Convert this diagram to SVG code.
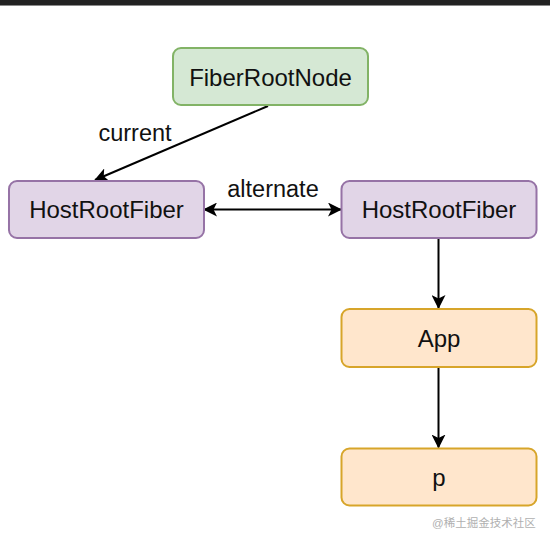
<svg xmlns="http://www.w3.org/2000/svg" width="550" height="544" viewBox="0 0 550 544">
  <style>
    text { font-family: "Liberation Sans", Arial, Helvetica, sans-serif; fill: #111; }
    .lbl { font-size: 24px; text-anchor: middle; }
    .elbl { font-size: 23.5px; text-anchor: middle; }
    .green { fill: #d5e8d4; stroke: #82b366; stroke-width: 2; }
    .purple { fill: #e1d5e7; stroke: #9673a6; stroke-width: 2; }
    .orange { fill: #ffe6cc; stroke: #d7a52a; stroke-width: 2; }
    .edge { fill: none; stroke: #000; stroke-width: 2; }
    .wm { font-family: "Liberation Sans", "Noto Sans CJK SC", sans-serif; font-size: 11.5px; fill: #b0b0b0; }
  </style>
  <defs>
    <marker id="arrow" viewBox="0 0 14 14" refX="13" refY="7" markerWidth="14" markerHeight="14" markerUnits="userSpaceOnUse" orient="auto-start-reverse">
      <path d="M0,0 L14,7 L0,14 L3.5,7 z" fill="#000"/>
    </marker>
  </defs>
  <rect x="0" y="0" width="550" height="544" fill="#ffffff"/>
  <rect x="0" y="0" width="550" height="5" fill="#222222"/>
  <rect x="0" y="5" width="550" height="1" fill="#8a8a8a"/>

  <g id="connectors">
    <line class="edge" x1="268" y1="106" x2="95" y2="180" marker-end="url(#arrow)"/>
    <line class="edge" x1="204" y1="209.5" x2="341" y2="209.5" marker-start="url(#arrow)" marker-end="url(#arrow)"/>
    <line class="edge" x1="438.5" y1="238" x2="438.5" y2="308" marker-end="url(#arrow)"/>
    <line class="edge" x1="438.5" y1="367" x2="438.5" y2="447.5" marker-end="url(#arrow)"/>
    <text class="elbl" x="135" y="140.5">current</text>
    <text class="elbl" x="273" y="196.5">alternate</text>
  </g>

  <g id="fiberRootNode">
    <rect class="green" x="173" y="48" width="195" height="57" rx="8"/>
    <text class="lbl" x="270.5" y="86">FiberRootNode</text>
  </g>
  <g id="hostRootFiberLeft">
    <rect class="purple" x="9" y="181" width="195" height="57" rx="8"/>
    <text class="lbl" x="106.5" y="218">HostRootFiber</text>
  </g>
  <g id="hostRootFiberRight">
    <rect class="purple" x="341.5" y="181" width="195" height="57" rx="8"/>
    <text class="lbl" x="439" y="218">HostRootFiber</text>
  </g>
  <g id="app">
    <rect class="orange" x="341.5" y="309" width="195" height="58" rx="8"/>
    <text class="lbl" x="439" y="346.5">App</text>
  </g>
  <g id="p">
    <rect class="orange" x="341.5" y="448.5" width="195" height="57" rx="8"/>
    <text class="lbl" x="439" y="485.5">p</text>
  </g>

  <text class="wm" x="432" y="527">@稀土掘金技术社区</text>
</svg>
